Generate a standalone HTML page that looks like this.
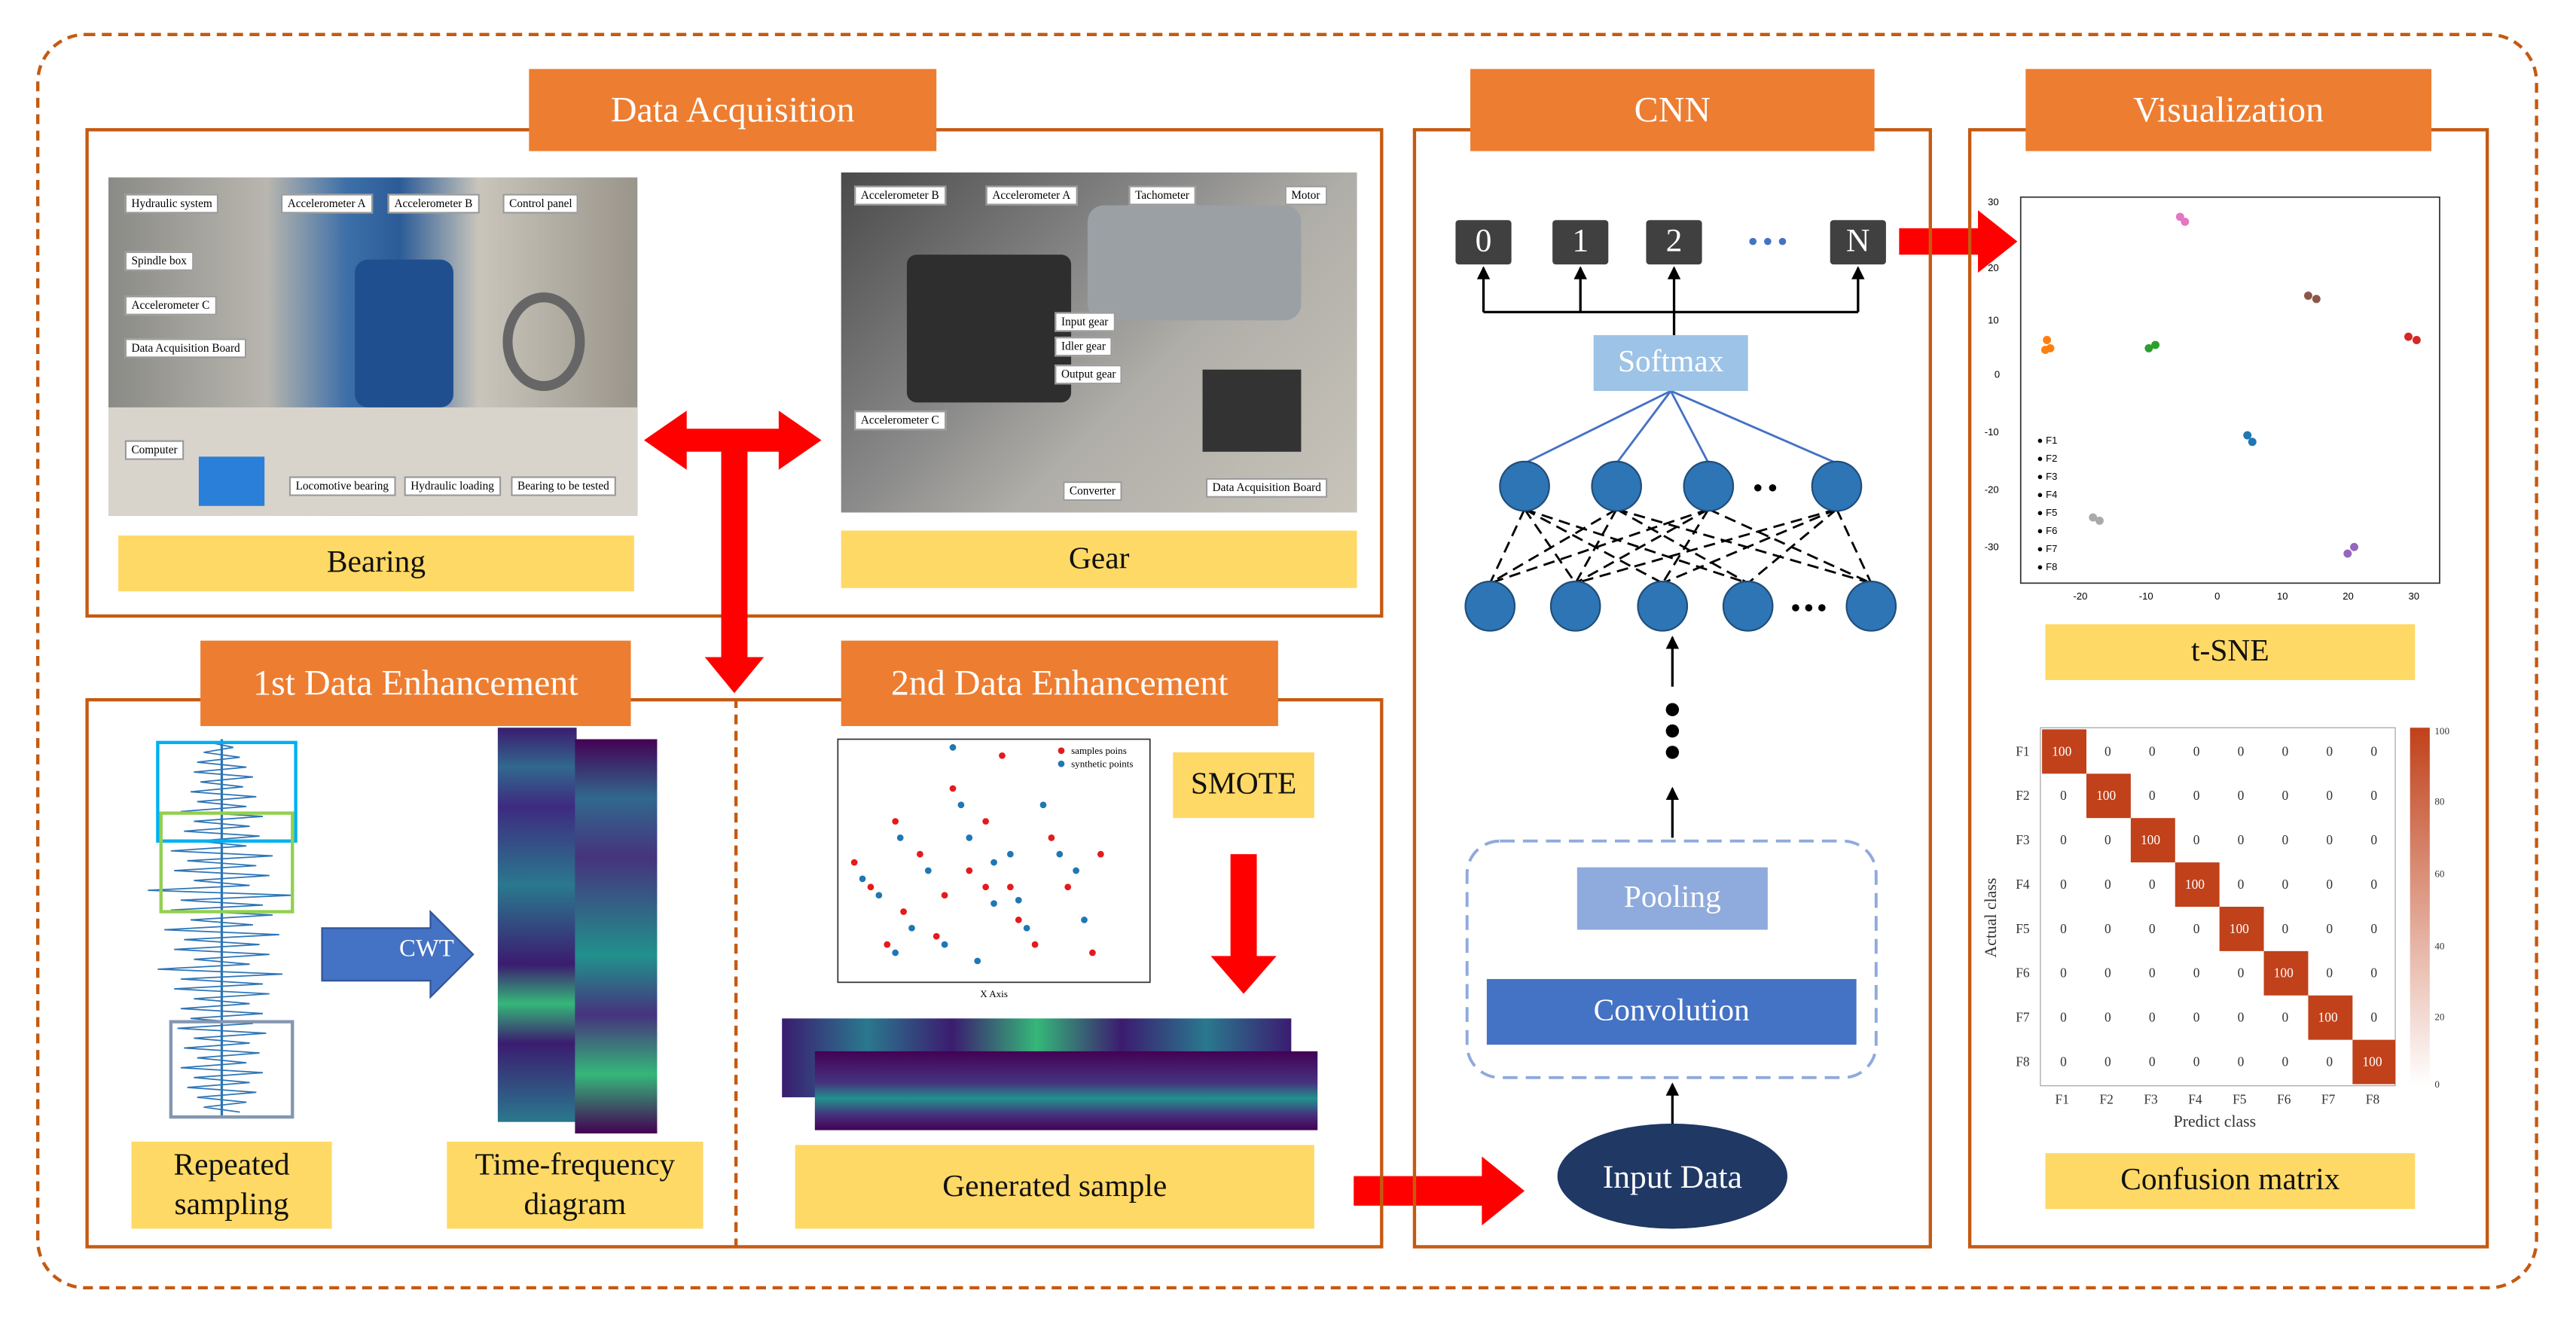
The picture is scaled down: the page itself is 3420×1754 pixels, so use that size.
<!DOCTYPE html>
<html><head><meta charset="utf-8"><style>
html,body{margin:0;padding:0;background:#fff;}
#wrap{width:3420px;height:1754px;overflow:hidden;position:relative;}
#s{position:absolute;left:0;top:0;width:1568px;height:804px;transform:scale(2.1811);transform-origin:0 0;font-family:"Liberation Serif",serif;}
.a{position:absolute;box-sizing:border-box;}
.box{border:2px solid #C55A11;}
.tab{background:#ED7D31;color:#fff;font-size:22px;display:flex;align-items:center;justify-content:center;}
.yl{background:#FFD966;display:flex;align-items:center;justify-content:center;text-align:center;font-size:19px;color:#111;line-height:1.25;}
.nb{background:#404040;color:#fff;font-size:20px;display:flex;align-items:center;justify-content:center;border-radius:2px;}
.lbl{position:absolute;background:#fff;font-size:7px;padding:1px 3px;border:1px solid #999;}
</style></head><body><div id="wrap"><div id="s">
<div class="a" style="left:22px;top:20px;width:1523px;height:765px;border:2px dashed #C55A11;border-radius:30px;"></div>

<div class="a box" style="left:52px;top:78px;width:790px;height:298px;"></div>
<div class="a tab" style="left:322px;top:42px;width:248px;height:50px;">Data Acquisition</div>
<div class="a" style="left:66px;top:108px;width:322px;height:206px;background:linear-gradient(90deg,#8a8a86 0%,#b8b6ae 30%,#3d6fa8 45%,#2b5c98 55%,#c9c5bb 70%,#9a958a 100%);">
 <div class="a" style="left:0;top:140px;width:322px;height:66px;background:#d8d4cc;"></div>
 <div class="a" style="left:150px;top:50px;width:60px;height:90px;background:#1f4f8f;border-radius:8px;"></div>
 <div class="a" style="left:240px;top:70px;width:50px;height:60px;border:6px solid #666;border-radius:50%;"></div>
 <div class="a" style="left:55px;top:170px;width:40px;height:30px;background:#2a7fd8;"></div>
 <span class="lbl" style="left:10px;top:10px">Hydraulic system</span><span class="lbl" style="left:105px;top:10px">Accelerometer A</span>
 <span class="lbl" style="left:170px;top:10px">Accelerometer B</span><span class="lbl" style="left:240px;top:10px">Control panel</span>
 <span class="lbl" style="left:10px;top:45px">Spindle box</span><span class="lbl" style="left:10px;top:72px">Accelerometer C</span>
 <span class="lbl" style="left:10px;top:98px">Data Acquisition Board</span><span class="lbl" style="left:10px;top:160px">Computer</span>
 <span class="lbl" style="left:110px;top:182px">Locomotive bearing</span><span class="lbl" style="left:180px;top:182px">Hydraulic loading</span><span class="lbl" style="left:245px;top:182px">Bearing to be tested</span>
</div>
<div class="a yl" style="left:72px;top:326px;width:314px;height:34px;">Bearing</div>
<div class="a" style="left:512px;top:105px;width:314px;height:207px;background:linear-gradient(135deg,#4a4a4a 0%,#8a8a8a 40%,#b0aea8 60%,#c8c4ba 100%);">
 <div class="a" style="left:40px;top:50px;width:100px;height:90px;background:#2e2e2e;border-radius:6px;"></div>
 <div class="a" style="left:150px;top:20px;width:130px;height:70px;background:#9aa0a4;border-radius:10px;"></div>
 <div class="a" style="left:220px;top:120px;width:60px;height:50px;background:#333;"></div>
 <span class="lbl" style="left:8px;top:8px">Accelerometer B</span><span class="lbl" style="left:88px;top:8px">Accelerometer A</span>
 <span class="lbl" style="left:175px;top:8px">Tachometer</span><span class="lbl" style="left:270px;top:8px">Motor</span>
 <span class="lbl" style="left:130px;top:85px">Input gear</span><span class="lbl" style="left:130px;top:100px">Idler gear</span><span class="lbl" style="left:130px;top:117px">Output gear</span>
 <span class="lbl" style="left:8px;top:145px">Accelerometer C</span><span class="lbl" style="left:135px;top:188px">Converter</span><span class="lbl" style="left:222px;top:186px">Data Acquisition Board</span>
</div>
<div class="a yl" style="left:512px;top:323px;width:314px;height:35px;">Gear</div>

<svg class="a" style="left:0;top:0" width="1568" height="804">
 <defs><marker id="bh" markerWidth="8" markerHeight="8" refX="7" refY="4" orient="auto" markerUnits="userSpaceOnUse"><path d="M0,0L8,4L0,8z" fill="#000"/></marker></defs>
 <polygon points="392,268 418,250 418,261 474,261 474,250 500,268 474,286 474,275 455,275 455,400 465,400 447,422 429,400 439,400 439,275 418,275 418,286" fill="#f00"/>
 <polygon points="824,716 902,716 902,704 928,725 902,746 902,734 824,734" fill="#f00"/>
 <polygon points="1156,139 1204,139 1204,128 1228,147 1204,166 1204,155 1156,155" fill="#f00"/>
 <polygon points="749,520 765,520 765,582 777,582 757,605 737,582 749,582" fill="#f00"/>
 <polygon points="196,565 262,565 262,555 288,581 262,607 262,597 196,597" fill="#4472C4" stroke="#2F5597"/>
 <g stroke="#000" stroke-width="1.5" fill="none">
  <line x1="903" y1="190" x2="1131" y2="190"/>
  <line x1="903" y1="190" x2="903" y2="163" marker-end="url(#bh)"/><line x1="962" y1="190" x2="962" y2="163" marker-end="url(#bh)"/>
  <line x1="1019" y1="204" x2="1019" y2="163" marker-end="url(#bh)"/><line x1="1131" y1="190" x2="1131" y2="163" marker-end="url(#bh)"/>
  <line x1="1018" y1="418" x2="1018" y2="388" marker-end="url(#bh)"/>
  <line x1="1018" y1="510" x2="1018" y2="480" marker-end="url(#bh)"/>
  <line x1="1018" y1="688" x2="1018" y2="660" marker-end="url(#bh)"/>
 </g>
 <g stroke="#4472C4" stroke-width="1.3"><line x1="1017" y1="238" x2="928" y2="282"/><line x1="1017" y1="238" x2="984" y2="282"/><line x1="1017" y1="238" x2="1040" y2="282"/><line x1="1017" y1="238" x2="1118" y2="282"/></g>
 <g stroke="#000" stroke-width="1.3" stroke-dasharray="7,4">
  <line x1="928" y1="310" x2="907" y2="355"/><line x1="928" y1="310" x2="959" y2="355"/><line x1="928" y1="310" x2="1012" y2="355"/><line x1="928" y1="310" x2="1064" y2="355"/>
  <line x1="984" y1="310" x2="907" y2="355"/><line x1="984" y1="310" x2="959" y2="355"/><line x1="984" y1="310" x2="1064" y2="355"/><line x1="984" y1="310" x2="1139" y2="355"/>
  <line x1="1040" y1="310" x2="907" y2="355"/><line x1="1040" y1="310" x2="1012" y2="355"/><line x1="1040" y1="310" x2="1139" y2="355"/><line x1="1040" y1="310" x2="959" y2="355"/>
  <line x1="1118" y1="310" x2="959" y2="355"/><line x1="1118" y1="310" x2="1012" y2="355"/><line x1="1118" y1="310" x2="1064" y2="355"/><line x1="1118" y1="310" x2="1139" y2="355"/>
 </g>
 <g fill="#2E75B6" stroke="#1F4E79" stroke-width="1">
  <circle cx="928" cy="296" r="15"/><circle cx="984" cy="296" r="15"/><circle cx="1040" cy="296" r="15"/><circle cx="1118" cy="296" r="15"/>
  <circle cx="907" cy="369" r="15"/><circle cx="959" cy="369" r="15"/><circle cx="1012" cy="369" r="15"/><circle cx="1064" cy="369" r="15"/><circle cx="1139" cy="369" r="15"/>
 </g>
 <g fill="#000"><circle cx="1070" cy="297" r="2.2"/><circle cx="1079" cy="297" r="2.2"/>
  <circle cx="1093" cy="370" r="2.2"/><circle cx="1101" cy="370" r="2.2"/><circle cx="1109" cy="370" r="2.2"/>
  <circle cx="1018" cy="432" r="4"/><circle cx="1018" cy="445" r="4"/><circle cx="1018" cy="458" r="4"/></g>
 <g fill="#4472C4"><circle cx="1067" cy="147" r="2.2"/><circle cx="1076" cy="147" r="2.2"/><circle cx="1085" cy="147" r="2.2"/></g>
 <rect x="893" y="512" width="249" height="144" rx="20" fill="none" stroke="#8FAADC" stroke-width="1.8" stroke-dasharray="9,5"/>
 <ellipse cx="1018" cy="716" rx="70" ry="32" fill="#1F3864"/>
 <text x="1018" y="723" font-size="20" fill="#fff" text-anchor="middle" font-family="Liberation Serif">Input Data</text>
 <!-- signal -->
 <g stroke="#2E75B6" stroke-width="0.8" fill="none">
  <path d="M135,450 L135,680" stroke-width="1.5"/>
  <path d="M128,452 L142,455 L124,458 L146,461 L120,464 L150,467 L118,470 L154,473 L122,476 L148,479 L116,482 L156,485 L120,488 L150,491 L110,494 L160,497 L118,500 L152,503 L112,506 L158,509 L120,512 L150,515 L104,518 L166,521 L114,524 L156,527 L106,530 L164,533 L118,536 L152,539 L90,542 L178,545 L110,548 L160,551 L104,554 L166,557 L116,560 L154,563 L100,566 L170,569 L112,572 L158,575 L106,578 L164,581 L118,584 L152,587 L96,590 L172,593 L110,596 L160,599 L106,602 L164,605 L118,608 L152,611 L110,614 L160,617 L116,620 L154,623 L108,626 L162,629 L118,632 L152,635 L112,638 L158,641 L120,644 L150,647 L110,650 L160,653 L118,656 L152,659 L114,662 L156,665 L120,668 L150,671 L124,674 L146,677"/>
 </g>
 <rect x="96" y="452" width="84" height="60" fill="none" stroke="#00B0F0" stroke-width="2"/>
 <rect x="98" y="495" width="80" height="60" fill="none" stroke="#92D050" stroke-width="2"/>
 <rect x="104" y="622" width="74" height="58" fill="none" stroke="#8497B0" stroke-width="2"/>
 <rect x="510" y="450" width="190" height="148" fill="#fff" stroke="#333" stroke-width="0.8"/>
 <g fill="#E41A1C"><circle cx="545" cy="500" r="2"/><circle cx="560" cy="520" r="2"/><circle cx="580" cy="480" r="2"/><circle cx="600" cy="540" r="2"/><circle cx="620" cy="560" r="2"/><circle cx="640" cy="510" r="2"/><circle cx="570" cy="570" r="2"/><circle cx="650" cy="540" r="2"/><circle cx="530" cy="540" r="2"/><circle cx="610" cy="460" r="2"/><circle cx="590" cy="530" r="2"/><circle cx="665" cy="580" r="2"/><circle cx="550" cy="555" r="2"/><circle cx="630" cy="575" r="2"/><circle cx="600" cy="500" r="2"/><circle cx="575" cy="545" r="2"/><circle cx="520" cy="525" r="2"/><circle cx="540" cy="575" r="2"/><circle cx="615" cy="540" r="2"/><circle cx="670" cy="520" r="2"/></g>
 <g fill="#1F77B4"><circle cx="548" cy="510" r="2"/><circle cx="565" cy="530" r="2"/><circle cx="585" cy="490" r="2"/><circle cx="605" cy="550" r="2"/><circle cx="625" cy="565" r="2"/><circle cx="645" cy="520" r="2"/><circle cx="575" cy="575" r="2"/><circle cx="655" cy="530" r="2"/><circle cx="535" cy="545" r="2"/><circle cx="590" cy="510" r="2"/><circle cx="615" cy="520" r="2"/><circle cx="660" cy="560" r="2"/><circle cx="555" cy="565" r="2"/><circle cx="635" cy="490" r="2"/><circle cx="580" cy="455" r="2"/><circle cx="595" cy="585" r="2"/><circle cx="525" cy="535" r="2"/><circle cx="545" cy="580" r="2"/><circle cx="620" cy="548" r="2"/><circle cx="605" cy="525" r="2"/></g>
 <circle cx="646" cy="457" r="2" fill="#E41A1C"/><text x="652" y="459" font-size="6">samples poins</text>
 <circle cx="646" cy="465" r="2" fill="#1F77B4"/><text x="652" y="467" font-size="6">synthetic points</text>
 <text x="605" y="607" font-size="6" text-anchor="middle">X Axis</text>
</svg>

<div class="a box" style="left:52px;top:425px;width:790px;height:335px;"></div>
<div class="a" style="left:447px;top:425px;width:0;height:335px;border-left:2px dashed #C55A11;"></div>
<div class="a tab" style="left:122px;top:390px;width:262px;height:52px;">1st Data Enhancement</div>
<div class="a tab" style="left:512px;top:390px;width:266px;height:52px;">2nd Data Enhancement</div>
<div class="a" style="left:303px;top:443px;width:48px;height:240px;background:linear-gradient(180deg,#3b1c70,#31688e 10%,#3e2a80 20%,#2a788e 40%,#3b1c70 60%,#35b779 70%,#3b1c70 80%,#2a788e 100%);"></div>
<div class="a" style="left:350px;top:450px;width:50px;height:240px;background:linear-gradient(180deg,#440154,#31688e 15%,#46337e 30%,#21918c 55%,#46337e 70%,#35b779 85%,#440154 100%);"></div>
<div class="a yl" style="left:80px;top:695px;width:122px;height:53px;">Repeated<br>sampling</div>
<div class="a yl" style="left:272px;top:695px;width:156px;height:53px;">Time-frequency<br>diagram</div>
<div class="a" style="left:243px;top:570px;color:#fff;font-size:15px;">CWT</div>
<div class="a yl" style="left:714px;top:458px;width:86px;height:40px;">SMOTE</div>
<div class="a" style="left:476px;top:620px;width:310px;height:48px;background:linear-gradient(90deg,#3b1c70,#2a788e,#3b1c70,#35b779,#3b1c70,#2a788e,#3b1c70);"></div>
<div class="a" style="left:496px;top:640px;width:306px;height:48px;background:linear-gradient(180deg,#440154,#46337e 40%,#21918c 60%,#46337e 80%,#440154);"></div>
<div class="a yl" style="left:484px;top:697px;width:316px;height:51px;">Generated sample</div>

<div class="a box" style="left:860px;top:78px;width:316px;height:682px;"></div>
<div class="a tab" style="left:895px;top:42px;width:246px;height:50px;">CNN</div>
<div class="a nb" style="left:886px;top:134px;width:34px;height:27px;">0</div>
<div class="a nb" style="left:945px;top:134px;width:34px;height:27px;">1</div>
<div class="a nb" style="left:1002px;top:134px;width:34px;height:27px;">2</div>
<div class="a nb" style="left:1114px;top:134px;width:34px;height:27px;">N</div>
<div class="a" style="left:970px;top:204px;width:94px;height:34px;background:#9DC3E6;color:#fff;font-size:19px;display:flex;align-items:center;justify-content:center;">Softmax</div>
<div class="a" style="left:960px;top:528px;width:116px;height:38px;background:#8FAADC;color:#fff;font-size:19px;display:flex;align-items:center;justify-content:center;">Pooling</div>
<div class="a" style="left:905px;top:596px;width:225px;height:40px;background:#4472C4;color:#fff;font-size:19px;display:flex;align-items:center;justify-content:center;">Convolution</div>

<div class="a box" style="left:1198px;top:78px;width:317px;height:682px;"></div>
<div class="a tab" style="left:1233px;top:42px;width:247px;height:50px;">Visualization</div>
<svg class="a" style="left:1200px;top:115px" width="300" height="260" font-family="Liberation Sans" font-size="6">
 <rect x="30" y="5" width="255" height="235" fill="none" stroke="#333" stroke-width="0.8"/>
 <g fill="#FF7F0E"><circle cx="46" cy="92" r="2.5"/><circle cx="48" cy="97" r="2.5"/><circle cx="45" cy="98" r="2.5"/></g>
 <g fill="#2CA02C"><circle cx="108" cy="97" r="2.5"/><circle cx="112" cy="95" r="2.5"/></g>
 <g fill="#E377C2"><circle cx="127" cy="17" r="2.5"/><circle cx="130" cy="20" r="2.5"/></g>
 <g fill="#8C564B"><circle cx="205" cy="65" r="2.5"/><circle cx="210" cy="67" r="2.5"/></g>
 <g fill="#D62728"><circle cx="266" cy="90" r="2.5"/><circle cx="271" cy="92" r="2.5"/></g>
 <g fill="#1F77B4"><circle cx="168" cy="150" r="2.5"/><circle cx="171" cy="154" r="2.5"/></g>
 <g fill="#9467BD"><circle cx="229" cy="222" r="2.5"/><circle cx="233" cy="218" r="2.5"/></g>
 <g fill="#aaa"><circle cx="74" cy="200" r="2.5"/><circle cx="78" cy="202" r="2.5"/></g>
 <text x="10" y="10">30</text><text x="10" y="50">20</text><text x="10" y="82">10</text><text x="14" y="115">0</text><text x="8" y="150">-10</text><text x="8" y="185">-20</text><text x="8" y="220">-30</text>
 <text x="62" y="250">-20</text><text x="102" y="250">-10</text><text x="148" y="250">0</text><text x="186" y="250">10</text><text x="226" y="250">20</text><text x="266" y="250">30</text>
 <text x="40" y="155">● F1</text><text x="40" y="166">● F2</text><text x="40" y="177">● F3</text><text x="40" y="188">● F4</text><text x="40" y="199">● F5</text><text x="40" y="210">● F6</text><text x="40" y="221">● F7</text><text x="40" y="232">● F8</text>
</svg>
<div class="a yl" style="left:1245px;top:380px;width:225px;height:34px;">t-SNE</div>
<svg class="a" style="left:1205px;top:438px" width="300" height="255" font-family="Liberation Serif" font-size="8">
 <rect x="37" y="5" width="216" height="218" fill="#fff" stroke="#999" stroke-width="0.5"/>
 <g fill="#C0411A">
  <rect x="38" y="6" width="27" height="27"/><rect x="65" y="33" width="27" height="27"/><rect x="92" y="60" width="27" height="27"/><rect x="119" y="87" width="27" height="27"/>
  <rect x="146" y="114" width="27" height="27"/><rect x="173" y="141" width="27" height="27"/><rect x="200" y="168" width="27" height="27"/><rect x="227" y="195" width="26" height="27"/>
 </g>
 <g fill="#fff"><text x="44" y="22">100</text><text x="71" y="49">100</text><text x="98" y="76">100</text><text x="125" y="103">100</text><text x="152" y="130">100</text><text x="179" y="157">100</text><text x="206" y="184">100</text><text x="233" y="211">100</text></g>
 <g fill="#333" text-anchor="middle">
  <text x="78" y="22">0</text><text x="105" y="22">0</text><text x="132" y="22">0</text><text x="159" y="22">0</text><text x="186" y="22">0</text><text x="213" y="22">0</text><text x="240" y="22">0</text>
  <text x="51" y="49">0</text><text x="105" y="49">0</text><text x="132" y="49">0</text><text x="159" y="49">0</text><text x="186" y="49">0</text><text x="213" y="49">0</text><text x="240" y="49">0</text>
  <text x="51" y="76">0</text><text x="78" y="76">0</text><text x="132" y="76">0</text><text x="159" y="76">0</text><text x="186" y="76">0</text><text x="213" y="76">0</text><text x="240" y="76">0</text>
  <text x="51" y="103">0</text><text x="78" y="103">0</text><text x="105" y="103">0</text><text x="159" y="103">0</text><text x="186" y="103">0</text><text x="213" y="103">0</text><text x="240" y="103">0</text>
  <text x="51" y="130">0</text><text x="78" y="130">0</text><text x="105" y="130">0</text><text x="132" y="130">0</text><text x="186" y="130">0</text><text x="213" y="130">0</text><text x="240" y="130">0</text>
  <text x="51" y="157">0</text><text x="78" y="157">0</text><text x="105" y="157">0</text><text x="132" y="157">0</text><text x="159" y="157">0</text><text x="213" y="157">0</text><text x="240" y="157">0</text>
  <text x="51" y="184">0</text><text x="78" y="184">0</text><text x="105" y="184">0</text><text x="132" y="184">0</text><text x="159" y="184">0</text><text x="186" y="184">0</text><text x="240" y="184">0</text>
  <text x="51" y="211">0</text><text x="78" y="211">0</text><text x="105" y="211">0</text><text x="132" y="211">0</text><text x="159" y="211">0</text><text x="186" y="211">0</text><text x="213" y="211">0</text>
 </g>
 <g fill="#333"><text x="22" y="22">F1</text><text x="22" y="49">F2</text><text x="22" y="76">F3</text><text x="22" y="103">F4</text><text x="22" y="130">F5</text><text x="22" y="157">F6</text><text x="22" y="184">F7</text><text x="22" y="211">F8</text>
 <text x="46" y="234">F1</text><text x="73" y="234">F2</text><text x="100" y="234">F3</text><text x="127" y="234">F4</text><text x="154" y="234">F5</text><text x="181" y="234">F6</text><text x="208" y="234">F7</text><text x="235" y="234">F8</text>
 <text x="118" y="248" font-size="10">Predict class</text>
 <text x="10" y="145" font-size="10" transform="rotate(-90 10 145)">Actual class</text></g>
 <defs><linearGradient id="cb" x1="0" y1="1" x2="0" y2="0"><stop offset="0" stop-color="#fff"/><stop offset="1" stop-color="#C0411A"/></linearGradient></defs>
 <rect x="262" y="5" width="12" height="218" fill="url(#cb)"/>
 <g font-size="6" fill="#333"><text x="277" y="9">100</text><text x="277" y="52">80</text><text x="277" y="96">60</text><text x="277" y="140">40</text><text x="277" y="183">20</text><text x="277" y="224">0</text></g>
</svg>
<div class="a yl" style="left:1245px;top:702px;width:225px;height:34px;">Confusion matrix</div>
</div></div></body></html>
